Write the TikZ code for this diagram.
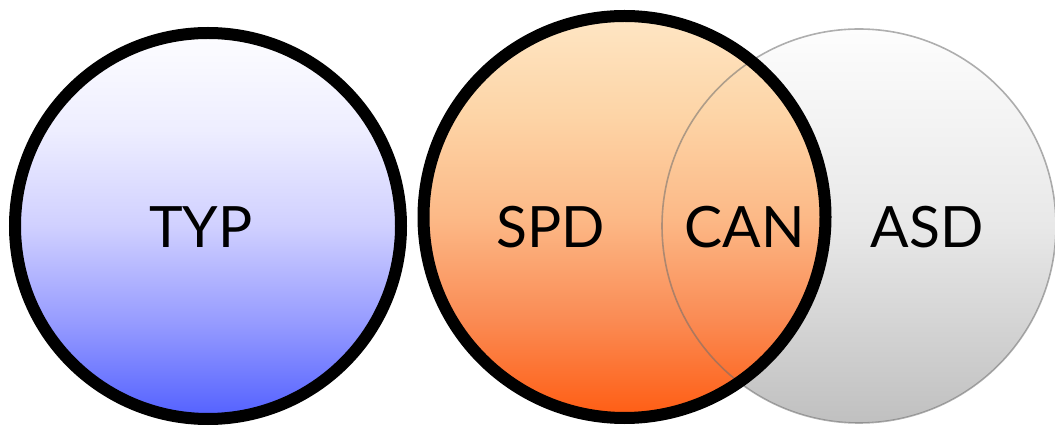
\documentclass[tikz,border=0pt]{standalone}
\usepackage{fontspec}
\setmainfont{Lato}
\pgfdeclareverticalshading{typshade}{100bp}{%
  color(0bp)=(rgb,255:red,82;green,96;blue,255);
  color(25bp)=(rgb,255:red,82;green,96;blue,255);
  color(37.5bp)=(rgb,255:red,150;green,155;blue,255);
  color(50bp)=(rgb,255:red,208;green,208;blue,255);
  color(62.5bp)=(rgb,255:red,238;green,238;blue,255);
  color(75bp)=(rgb,255:red,253;green,253;blue,255);
  color(100bp)=(rgb,255:red,253;green,253;blue,255)}
\pgfdeclareverticalshading{spdshade}{100bp}{%
  color(0bp)=(rgb,255:red,255;green,92;blue,18);
  color(25bp)=(rgb,255:red,255;green,92;blue,18);
  color(37.5bp)=(rgb,255:red,250;green,140;blue,85);
  color(50bp)=(rgb,255:red,252;green,185;blue,135);
  color(62.5bp)=(rgb,255:red,253;green,212;blue,166);
  color(75bp)=(rgb,255:red,254;green,230;blue,196);
  color(100bp)=(rgb,255:red,254;green,230;blue,196)}
\pgfdeclareverticalshading{asdshade}{100bp}{%
  color(0bp)=(rgb,255:red,192;green,192;blue,192);
  color(25bp)=(rgb,255:red,192;green,192;blue,192);
  color(50bp)=(rgb,255:red,232;green,232;blue,232);
  color(75bp)=(rgb,255:red,253;green,253;blue,253);
  color(100bp)=(rgb,255:red,253;green,253;blue,253)}
\begin{document}
\begin{tikzpicture}[x=1pt,y=-1pt,
  ring/.style={circle, inner sep=0pt, outer sep=0pt},
  lbl/.style={anchor=base, inner sep=0pt, font=\fontsize{57}{60}\selectfont, text=black}]
\useasboundingbox (0,0) rectangle (1055,427);
% ASD (drawn first, underneath SPD)
\node[ring, minimum size=394pt, shading=asdshade] (asd) at (859,226) {};
% TYP
\node[ring, minimum size=386pt, shading=typshade] (typ) at (208,226) {};
\draw[line width=12pt, black] (typ.center) circle[radius=193pt];
% SPD fill
\node[ring, minimum size=402pt, shading=spdshade] (spd) at (624.5,217) {};
% ASD outline over SPD fill
\draw[line width=1.6pt, draw={rgb,255:red,110;green,110;blue,110}, draw opacity=0.55] (asd.center) circle[radius=197pt];
% SPD outline
\draw[line width=12pt, black] (spd.center) circle[radius=201pt];
% labels
\node[lbl] (ttyp) at (201,248) {TYP};
\node[lbl] (tspd) at (551,248) {SPD};
\node[lbl] (tcan) at (745,248) {CAN};
\node[lbl] (tasd) at (927,248) {ASD};
\end{tikzpicture}
\end{document}
